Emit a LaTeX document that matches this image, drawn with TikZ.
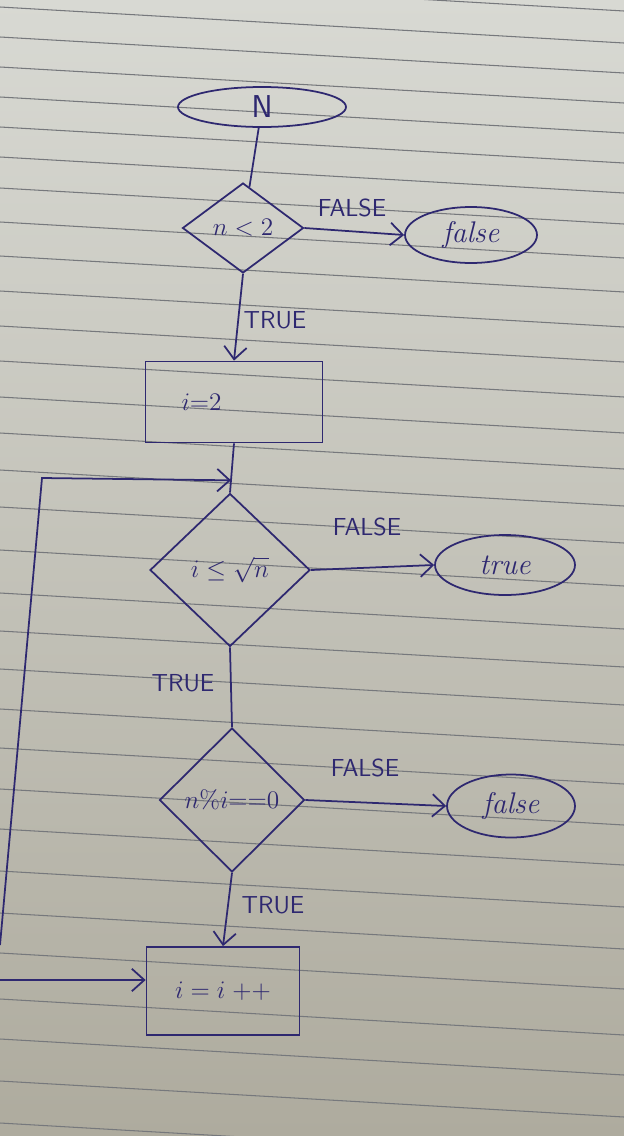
\documentclass[tikz,border=0pt]{standalone}
\usepackage{amsmath}
\usepackage{tikz}
\usetikzlibrary{shapes.geometric,arrows.meta}
\definecolor{ink}{RGB}{46,40,112}
\definecolor{paperlight}{RGB}{216,217,211}
\definecolor{paperdark}{RGB}{174,171,158}
\definecolor{ruling}{RGB}{118,120,124}

\begin{document}
\begin{tikzpicture}[x=0.02cm,y=-0.02cm,
    inkline/.style={draw=ink,line width=1pt},
    term/.style={ellipse,inkline,text=ink,inner sep=0pt,font=\fontsize{17}{19}\selectfont\itshape},
    decide/.style={diamond,inkline,text=ink,inner sep=0pt,font=\fontsize{15}{17}\selectfont},
    proc/.style={rectangle,inkline,text=ink,font=\fontsize{15}{17}\selectfont},
    lbl/.style={text=ink,font=\sffamily\fontsize{14}{16}\selectfont},
    flow/.style={inkline,-{Straight Barb[length=2.5mm,width=4.5mm]}}]
  \clip (0,0) rectangle (624,1136);
  \shade[top color=paperlight,bottom color=paperdark] (0,0) rectangle (624,1136);
  \foreach \y in {-25,7,37,67,97,127,157,188,222,256,291,326,361,397,433,470,507,550,593,631,669,709,748,789,829,871,913,953,999,1039,1081,1123}
    \draw[ruling,line width=0.6pt] (0,\y) -- (624,\y+36);

  \node[term,minimum width=3.36cm,minimum height=0.8cm,font=\sffamily\fontsize{18}{20}\selectfont] (start) at (262,107) {N};
  \node[decide,minimum width=2.42cm,minimum height=1.8cm] (small) at (243,228) {$n<2$};
  \node[term,minimum width=2.64cm,minimum height=1.12cm] (nofirst) at (471,235) {false};
  \node[proc,minimum width=3.54cm,minimum height=1.62cm,text width=3.1cm,align=left] (init) at (234,402) {\hspace*{0.5cm}$i{=}2$};
  \node[decide,minimum width=3.2cm,minimum height=3.06cm] (root) at (230,570) {$i\leq\sqrt{n}$};
  \node[term,minimum width=2.8cm,minimum height=1.2cm] (prime) at (505,565) {true};
  \node[decide,minimum width=2.9cm,minimum height=2.88cm] (divides) at (232,800) {$n\%i{=}{=}0$};
  \node[term,minimum width=2.56cm,minimum height=1.26cm] (notprime) at (511,806) {false};
  \node[proc,minimum width=3.06cm,minimum height=1.76cm] (next) at (223,991) {$i=i\;{+}{+}$};

  \node[lbl] (f1) at (352,208) {FALSE};
  \node[lbl] (t1) at (275,320) {TRUE};
  \node[lbl] (f2) at (367,527) {FALSE};
  \node[lbl] (t2) at (183,683) {TRUE};
  \node[lbl] (f3) at (365,768) {FALSE};
  \node[lbl] (t3) at (273,905) {TRUE};

  \path (init.south) -- (root.north) coordinate[pos=0.75] (join);
  \coordinate (loopin) at (0,980);
  \coordinate (loopout) at (0,945);
  \coordinate (corner) at (42,478);

  \draw[inkline] (start) -- (small);
  \draw[flow] (small.east) -- (nofirst.west);
  \draw[flow] (small.south) -- (init.north);
  \draw[inkline] (init.south) -- (root.north);
  \draw[flow] (root.east) -- (prime.west);
  \draw[inkline] (root.south) -- (divides.north);
  \draw[flow] (divides.east) -- (notprime.west);
  \draw[flow] (divides.south) -- (next.north);
  \draw[flow] (loopin) -- (loopin -| next.west);
  \draw[flow] (loopout) -- (corner) -- (join);
\end{tikzpicture}
\end{document}
